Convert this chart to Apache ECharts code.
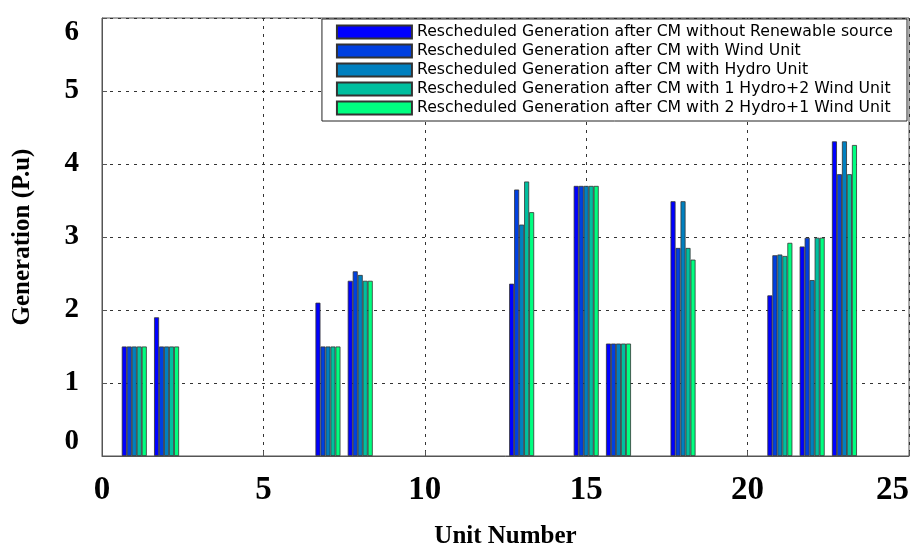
<!DOCTYPE html>
<html>
<head>
<meta charset="utf-8">
<script src="https://cdn.jsdelivr.net/npm/echarts@6/dist/echarts.min.js"></script>
<style>html,body{margin:0;padding:0;background:#fff}#c{width:919px;height:550px}</style>
</head>
<body>
<div id="c"></div>
<script>
const units = [1, 2, 7, 8, 13, 15, 16, 18, 21, 22, 23];
const seriesNames = [
  'Rescheduled Generation after CM without Renewable source',
  'Rescheduled Generation after CM with Wind Unit',
  'Rescheduled Generation after CM with Hydro Unit',
  'Rescheduled Generation after CM with 1 Hydro+2 Wind Unit',
  'Rescheduled Generation after CM with 2 Hydro+1 Wind Unit'
];
const withoutRenewable = [1.5, 1.9, 2.1, 2.4, 2.36, 3.7, 1.54, 3.49, 2.2, 2.87, 4.31];
const withWind         = [1.5, 1.5, 1.5, 2.53, 3.65, 3.7, 1.54, 2.85, 2.75, 2.99, 3.86];
const withHydro        = [1.5, 1.5, 1.5, 2.48, 3.17, 3.7, 1.54, 3.49, 2.76, 2.41, 4.31];
const hydro1Wind2      = [1.5, 1.5, 1.5, 2.4, 3.76, 3.7, 1.54, 2.85, 2.74, 2.99, 3.86];
const hydro2Wind1      = [1.5, 1.5, 1.5, 2.4, 3.34, 3.7, 1.54, 2.69, 2.92, 2.99, 4.26];
const xTicks = [0, 5, 10, 15, 20, 25];
const yTicks = [0, 1, 2, 3, 4, 5, 6];
const colors = ['#0000ff', '#0040e0', '#0080bf', '#00bf9f', '#00ff80'];

const allValues = [withoutRenewable, withWind, withHydro, hydro1Wind2, hydro2Wind1];

const chart = echarts.init(document.getElementById('c'), null, {renderer: 'canvas'});
const serif = '"Liberation Serif", "Times New Roman", serif';
chart.setOption({
  animation: false,
  backgroundColor: '#fff',
  grid: {left: 102, right: 10, top: 18, bottom: 94, outerBoundsMode: 'none', containLabel: false,
         show: true, borderColor: '#555', borderWidth: 1, backgroundColor: 'transparent'},
  legend: {
    orient: 'vertical', right: 12, top: 19,
    backgroundColor: '#fff', borderColor: '#222', borderWidth: 1,
    padding: [5, 14, 5, 14],
    icon: 'rect',
    itemWidth: 75, itemHeight: 13, itemGap: 3,
    textStyle: {fontFamily: '"DejaVu Sans", sans-serif', fontSize: 15.7, lineHeight: 13, color: '#000'},
    data: seriesNames
  },
  xAxis: {
    type: 'value', min: xTicks[0], max: xTicks[xTicks.length - 1], interval: 5,
    name: 'Unit Number', nameLocation: 'middle', nameGap: 68,
    nameTextStyle: {fontFamily: serif, fontWeight: 'bold', fontSize: 25, color: '#000'},
    axisLine: {show: true, lineStyle: {color: '#555'}},
    axisTick: {show: true, inside: true, length: 5, lineStyle: {color: '#555'}},
    axisLabel: {fontFamily: serif, fontWeight: 'bold', fontSize: 33, color: '#000', margin: 18,
                alignMaxLabel: 'right'},
    splitLine: {show: true, lineStyle: {color: '#333', type: [3, 5], width: 1}}
  },
  yAxis: {
    type: 'value', min: yTicks[0], max: yTicks[yTicks.length - 1], interval: 1,
    name: 'Generation (P.u)', nameLocation: 'middle', nameGap: 67, nameRotate: 90,
    nameTextStyle: {fontFamily: serif, fontWeight: 'bold', fontSize: 25, color: '#000'},
    axisLine: {show: true, lineStyle: {color: '#555'}},
    axisTick: {show: true, inside: true, length: 5, lineStyle: {color: '#555'}},
    axisLabel: {fontFamily: serif, fontWeight: 'bold', fontSize: 29, color: '#000', margin: 23,
                verticalAlignMinLabel: 'bottom', verticalAlignMaxLabel: 'top'},
    splitLine: {show: true, lineStyle: {color: '#333', type: [3, 5], width: 1}}
  },
  series: seriesNames.map((name, i) => ({
    name: name,
    type: 'bar',
    barWidth: 5,
    barGap: '0%',
    itemStyle: {color: colors[i], borderColor: '#333', borderWidth: 0.8},
    data: units.map((u, k) => [u, allValues[i][k]])
  }))
});
</script>
</body>
</html>
